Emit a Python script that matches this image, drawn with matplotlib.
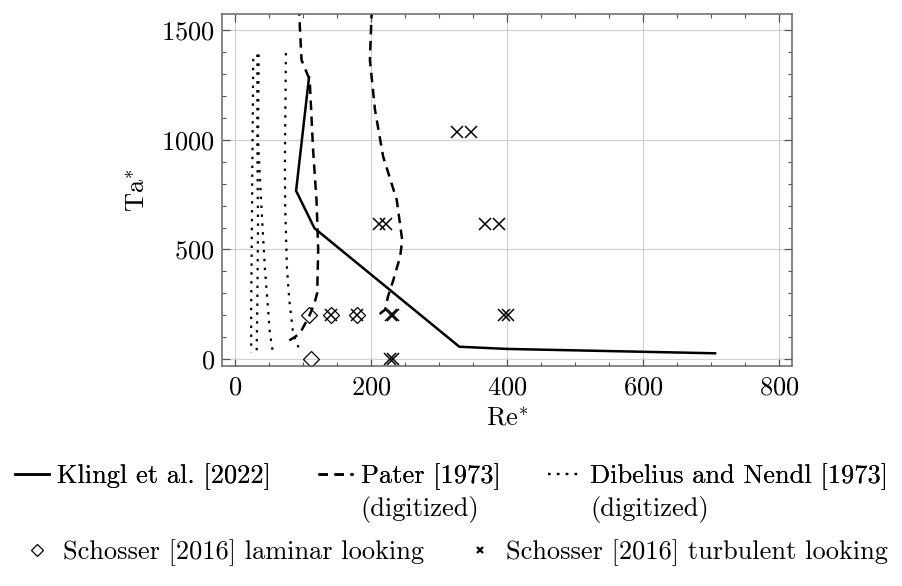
import matplotlib
matplotlib.use("Agg")
import matplotlib.pyplot as plt
from matplotlib.lines import Line2D
from matplotlib.ticker import MultipleLocator

plt.rcParams["font.family"] = "serif"
plt.rcParams["font.serif"] = ["cmr10", "DejaVu Serif"]
plt.rcParams["mathtext.fontset"] = "cm"
plt.rcParams["axes.formatter.use_mathtext"] = True
plt.rcParams["font.size"] = 19

# Klingl et al. [2022] stability boundary
klingl_re = [109, 90, 117, 330, 400, 600, 706]
klingl_ta = [1286, 768, 597, 56, 46, 33, 26]

# Pater [1973], digitized (two branches)
pater_left_re = [80, 88, 96, 110, 117, 121, 122.5, 120, 115, 110, 98, 94.6, 94]
pater_left_ta = [85, 100, 119, 201, 255, 301, 498, 726, 954, 1274, 1365, 1575, 1650]
pater_right_re = [213, 216, 221, 225, 233, 243, 246, 238, 218, 206, 198.5, 201, 202]
pater_right_ta = [205, 214, 225, 284, 361, 467, 543, 726, 924, 1137, 1365, 1575, 1650]

dib1_re = [27, 26, 25, 24, 24]
dib1_ta = [1370, 1000, 600, 250, 30]
dib2_re = [33, 33, 34, 33, 32]
dib2_ta = [1390, 1000, 600, 250, 30]
dib3_re = [35, 34, 39, 44, 51.5, 56]
dib3_ta = [1390, 1000, 695, 420, 118, 27]
dib4_re = [75, 73.5, 74, 76.5, 80, 85.6, 95]
dib4_ta = [1397, 877, 695, 420, 269, 118, 41]

# Schosser [2016] observations
laminar_re = [109, 112, 141, 179]
laminar_ta = [200, 0, 200, 200]
turbulent_re = [326, 347, 212, 222, 368, 388, 396, 402, 141, 179, 229, 232, 228, 232]
turbulent_ta = [1035, 1035, 616, 616, 616, 616, 200, 200, 200, 200, 200, 200, 0, 0]

fig = plt.figure(figsize=(9.03, 5.86), dpi=100)
ax = fig.add_axes([0.2458, 0.3754, 0.6312, 0.6007])

lw = 1.8
ax.plot(klingl_re, klingl_ta, color="black", lw=lw, solid_joinstyle="miter")
dash = (3.8, 2.6)
ax.plot(pater_left_re, pater_left_ta, color="black", lw=lw, dashes=dash)
ax.plot(pater_right_re, pater_right_ta, color="black", lw=lw, dashes=dash)
dots = (1.1, 2.9)
dot_lw = 1.6
for xs, ys in [(dib1_re, dib1_ta), (dib2_re, dib2_ta), (dib3_re, dib3_ta), (dib4_re, dib4_ta)]:
    ax.plot(xs, ys, color="black", lw=dot_lw, dashes=dots)

ax.plot(laminar_re, laminar_ta, ls="none", marker="D", ms=8, mfc="none",
        mec="black", mew=0.9)
ax.plot(turbulent_re, turbulent_ta, ls="none", marker="x", ms=9, mec="black",
        mew=1.1)

ax.set_xlim(-19, 819)
ax.set_ylim(-32, 1575)
ax.xaxis.set_major_locator(MultipleLocator(200))
ax.xaxis.set_minor_locator(MultipleLocator(50))
ax.yaxis.set_major_locator(MultipleLocator(500))
ax.yaxis.set_minor_locator(MultipleLocator(100))
ax.grid(True, which="major", color="#d0d0d0", lw=0.8)
ax.set_axisbelow(True)
ax.tick_params(which="both", direction="in", top=True, right=True, color="#555555")
ax.tick_params(which="major", length=5.5, width=0.9, pad=5)
ax.tick_params(axis="x", which="major", pad=7)
ax.tick_params(which="minor", length=3, width=0.8)
for s in ax.spines.values():
    s.set_color("#666666")
    s.set_linewidth(1.1)

ax.set_xlabel(r"$\mathrm{Re}^{*}$", labelpad=5)
ax.set_ylabel(r"$\mathrm{Ta}^{*}$", labelpad=8)

# Legend: line styles
line_handles = [
    Line2D([], [], color="black", lw=lw),
    Line2D([], [], color="black", lw=lw, dashes=dash),
    Line2D([], [], color="black", lw=dot_lw, dashes=dots),
]
line_labels = ["Klingl et al. [2022]", "Pater [1973]", "Dibelius and Nendl [1973]"]
leg1 = fig.legend(line_handles, line_labels, ncol=3, loc="upper center",
                  bbox_to_anchor=(0.5, 0.227), frameon=False, handlelength=1.3,
                  handletextpad=0.3, columnspacing=1.8, borderaxespad=0)

marker_handles = [
    Line2D([], [], ls="none", marker="D", ms=6, mfc="none", mec="black", mew=0.9),
    Line2D([], [], ls="none", marker="x", ms=5, mec="black", mew=1.6),
]
marker_labels = ["Schosser [2016] laminar looking", "Schosser [2016] turbulent looking"]
leg2 = fig.legend(marker_handles, marker_labels, ncol=2, loc="upper center",
                  bbox_to_anchor=(0.505, 0.097), frameon=False, handlelength=1.0,
                  handletextpad=0.5, columnspacing=1.6, borderaxespad=0)
fig.add_artist(leg1)

# Second line of the multi-line legend labels
fig.canvas.draw()
renderer = fig.canvas.get_renderer()
inv = fig.transFigure.inverted()
for t in leg1.get_texts()[1:]:
    bb = t.get_window_extent(renderer)
    x0, y0 = inv.transform((bb.x0, bb.y0))
    fig.text(x0, y0 - 0.01, "(digitized)", ha="left", va="top")

fig.savefig("out.png", dpi=100)
